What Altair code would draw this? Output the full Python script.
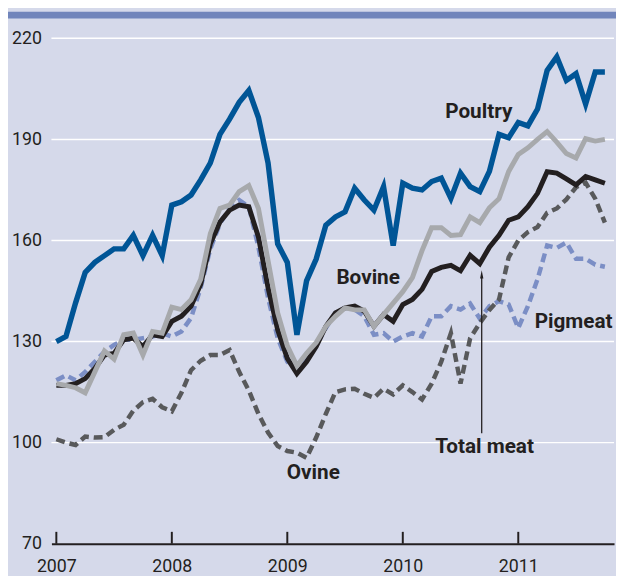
import altair as alt
import pandas as pd

# months since Jan 2007 (Jan 2007 .. Oct 2011)
months = list(range(58))

poultry = [130, 131.5, 141.5, 150.5, 153.5, 155.5, 157.5, 157.5, 161.5, 155.5, 161.5, 155.5,
           170.5, 171.5, 173.5, 178, 183, 191.5, 196, 201, 204.5, 196.5, 183, 159,
           153.5, 132, 148, 154.5, 164.5, 167, 168.5, 175.5, 172, 169, 176, 158.5,
           177, 175.5, 175, 177.5, 178.5, 172.5, 180, 176, 174.5, 180.5, 191.5, 190.5,
           195, 194, 199, 210.5, 214.5, 207.5, 209.5, 200.5, 210, 210]

total_meat = [117, 117, 117.5, 119, 122, 126, 126.5, 130.5, 131, 128.5, 132, 131.5,
              136, 137.5, 140.5, 147, 159, 165.5, 169, 170.5, 170, 161, 146, 133.5,
              125, 120.5, 124, 128.5, 134.5, 138.5, 140, 140.5, 139, 134.5, 138, 136,
              141, 142.5, 145.5, 150.8, 152, 152.6, 151, 155.6, 153.1, 158, 161.5, 166,
              167, 170, 174, 180.4, 180, 178.3, 176.5, 179, 178, 177]

bovine = [117.5, 117, 116.3, 114.8, 121, 127.2, 124.8, 132, 132.5, 126, 133, 132.5,
          140.2, 139.5, 142.4, 148.5, 162, 169.5, 170.5, 174.5, 176.3, 169.5, 154, 138.5,
          128.7, 122.8, 126.5, 129.7, 134.5, 137.5, 140, 139.4, 139.4, 134.5, 138, 141.4,
          144.8, 149, 157, 163.8, 163.8, 161.5, 161.7, 167, 165.3, 169.7, 172.4, 180.5,
          185.5, 187.5, 190, 192.3, 189.2, 185.8, 184.5, 190.2, 189.5, 190]

pigmeat = [118.5, 120, 118.5, 121, 124, 127, 129, 130.5, 130.5, 131, 131.5, 132.5,
           131.5, 133, 137, 146, 157.5, 165, 169.5, 172, 170, 158, 143, 131,
           124, 121.5, 125, 129, 134, 138.5, 140, 139.5, 137.5, 132, 132.5, 130,
           131.5, 132.5, 131.5, 137.5, 137.5, 140.5, 139.5, 141.3, 136.8, 140.5, 142, 141,
           134, 140.5, 148.5, 158.5, 157.8, 159.4, 154.6, 154.6, 152.8, 152.2]

ovine = [101, 100, 99.3, 101.8, 101.5, 101.6, 103.8, 105.3, 109.5, 112, 113, 110.5,
         109.3, 114.8, 121.5, 124.3, 126, 126, 127.5, 121, 115.5, 108.5, 103, 99,
         97.5, 97, 95.5, 101.5, 108.5, 115, 115.8, 116, 114.5, 113.3, 116, 114.3,
         117, 115, 112.8, 117.5, 124, 132.5, 117.5, 131, 135.5, 139.4, 142.5, 155,
         160, 162.5, 164, 168.2, 169.5, 172.2, 175.8, 177.2, 172.4, 165.3]

y_ticks = [70, 100, 130, 160, 190, 220]
grid_vals = [100, 130, 160, 190, 220]
year_pos = [0, 12, 24, 36, 48]

label_text = ["Poultry", "Bovine", "Total meat", "Ovine"]
label_m = [43.9, 32.4, 44.5, 26.7]
label_v = [198.0, 148.8, 98.7, 91.1]

FONT = "Roboto"
BG = "#d5d9ea"
INK = "#231f20"

xscale = alt.Scale(domain=[-0.51, 57.95], nice=False, zero=False)
yscale = alt.Scale(domain=[70, 220], nice=False, zero=False)
xaxis = alt.Axis(values=year_pos, labelExpr="'' + (2007 + datum.value / 12)",
                 ticks=False, tickSize=0, grid=False, domainColor=INK,
                 domainWidth=2, labelFontSize=18, labelFont=FONT,
                 labelColor=INK, labelPadding=14, title=None,
                 labelFlush=False, labelOverlap=False)
yaxis = alt.Axis(values=y_ticks, grid=False, domain=False, ticks=False,
                 tickSize=0, labelFontSize=18, labelFont=FONT,
                 labelColor=INK, labelPadding=10, title=None)


def X(field="m"):
    return alt.X(f"{field}:Q", scale=xscale, axis=xaxis)


def Y(field="v"):
    return alt.Y(f"{field}:Q", scale=yscale, axis=yaxis)


def series(vals, color, width, dash=None):
    df = pd.DataFrame({"m": months, "v": vals})
    kw = dict(color=color, strokeWidth=width, strokeJoin="miter")
    if dash:
        kw["strokeDash"] = dash
        kw["strokeCap"] = "butt"
    return alt.Chart(df).mark_line(**kw).encode(x=X(), y=Y())


grid = alt.Chart(pd.DataFrame({"v": grid_vals})).mark_rule(
    color="white", strokeWidth=1.5).encode(y=Y())

ticks = alt.Chart(pd.DataFrame({"m": year_pos})).mark_rule(
    color=INK, strokeWidth=2).encode(x=X(), y=alt.value(512), y2=alt.value(500))

band = alt.Chart(pd.DataFrame({"a": [0]})).mark_rect(color="#7185bb").encode(
    x=alt.value(-44), x2=alt.value(580), y=alt.value(-27), y2=alt.value(-20))

lines = [
    series(pigmeat, "#7b8ec5", 4.5, [9, 5]),
    series(ovine, "#58595b", 4.5, [9, 5]),
    series(total_meat, INK, 5),
    series(bovine, "#a7a9ac", 5),
    series(poultry, "#005596", 5.5),
]

labels = alt.Chart(pd.DataFrame({"m": label_m, "v": label_v, "t": label_text})).mark_text(
    font=FONT, fontSize=21, fontWeight="bold", color=INK, align="center",
    baseline="middle").encode(x=X(), y=Y(), text="t:N")

pig_label = alt.Chart(pd.DataFrame({"m": [49.7], "v": [135.9], "t": ["Pigmeat"]})).mark_text(
    font=FONT, fontSize=21, fontWeight="bold", color=INK, align="left",
    baseline="middle").encode(x=X(), y=Y(), text="t:N")

arrow_line = alt.Chart(pd.DataFrame({"m": [44.2], "v": [102.8], "v2": [149.0]})).mark_rule(
    color=INK, strokeWidth=1.3).encode(x=X(), y=Y(), y2="v2:Q")

arrow_head = alt.Chart(pd.DataFrame({"m": [44.2], "v": [149.6]})).mark_point(
    shape="M0,-1L0.32,0.6L-0.32,0.6Z", filled=True, color=INK, opacity=1,
    size=110).encode(x=X(), y=Y())

chart = alt.layer(grid, ticks, band, *lines, arrow_line, arrow_head, labels, pig_label).properties(
    width=570, height=512,
    autosize=alt.AutoSizeParams(type="none"),
    padding={"left": 44, "top": 27, "right": 2, "bottom": 29},
    background=BG,
).configure_view(stroke=None)

chart.save("out.html", embed_options={"renderer": "svg", "actions": False})
